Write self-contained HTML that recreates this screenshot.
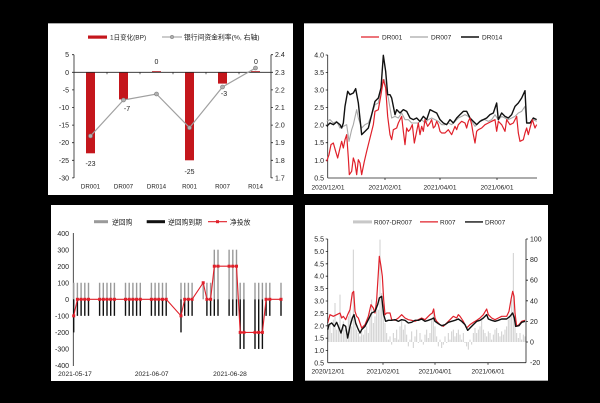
<!DOCTYPE html>
<html><head><meta charset="utf-8"><style>
html,body{margin:0;padding:0;background:#000;}
svg{display:block;}
text{font-family:"Liberation Sans","Noto Sans CJK SC",sans-serif;fill:#222;}
</style></head><body>
<svg width="600" height="403" viewBox="0 0 600 403" xmlns="http://www.w3.org/2000/svg">
<rect x="0" y="0" width="600" height="403" fill="#000"/>
<!-- panels -->
<rect x="48" y="23" width="245" height="172" fill="#fff"/>
<line x1="48" y1="23.5" x2="293" y2="23.5" stroke="#aaa" stroke-width="1"/>
<rect x="304" y="23" width="249" height="171" fill="#fff"/>
<line x1="304" y1="23.5" x2="553" y2="23.5" stroke="#aaa" stroke-width="1"/>
<rect x="51" y="205" width="242" height="176" fill="#fff"/>
<rect x="305" y="205" width="243" height="176" fill="#fff"/>
<line x1="305" y1="380.5" x2="548" y2="380.5" stroke="#aaa" stroke-width="1"/>

<!-- ================= TOP LEFT ================= -->
<g font-size="7" text-anchor="end">
<text x="69" y="57.2">5</text>
<text x="69" y="74.8">0</text>
<text x="69" y="92.4">-5</text>
<text x="69" y="110">-10</text>
<text x="69" y="127.6">-15</text>
<text x="69" y="145.2">-20</text>
<text x="69" y="162.8">-25</text>
<text x="69" y="180.4">-30</text>
</g>
<g font-size="7" text-anchor="start">
<text x="275" y="57.2">2.4</text>
<text x="275" y="74.8">2.3</text>
<text x="275" y="92.4">2.2</text>
<text x="275" y="110">2.1</text>
<text x="275" y="127.6">2.0</text>
<text x="275" y="145.2">1.9</text>
<text x="275" y="162.8">1.8</text>
<text x="275" y="180.4">1.7</text>
</g>
<g stroke="#222" stroke-width="0.8" fill="none">
<line x1="74" y1="54.7" x2="74" y2="178"/>
<line x1="271" y1="54.7" x2="271" y2="178"/>
<path d="M72 54.7H74M72 72.3H74M72 89.9H74M72 107.5H74M72 125.1H74M72 142.7H74M72 160.3H74M72 177.9H74"/>
<path d="M271 54.7H273M271 72.3H273M271 89.9H273M271 107.5H273M271 125.1H273M271 142.7H273M271 160.3H273M271 177.9H273"/>
</g>
<g fill="#c4161c">
<rect x="86" y="72.3" width="9" height="81"/>
<rect x="119" y="72.3" width="9" height="27.1"/>
<rect x="152" y="71.2" width="9" height="1.1"/>
<rect x="185" y="72.3" width="9" height="88"/>
<rect x="218" y="72.3" width="9" height="11.3"/>
<rect x="251" y="71.2" width="9" height="1.1"/>
</g>
<line x1="74" y1="72.3" x2="271" y2="72.3" stroke="#222" stroke-width="0.8"/>
<path d="M107 72.3V74.3M140 72.3V74.3M173 72.3V74.3M206 72.3V74.3M239 72.3V74.3" stroke="#222" stroke-width="0.7"/>
<polyline points="90.5,136 123.5,100 156.5,94 189.5,127.7 222.5,87 255.5,68" fill="none" stroke="#a0a0a0" stroke-width="1.2"/>
<g fill="#b0b0b0" stroke="#777" stroke-width="0.6">
<circle cx="90.5" cy="136" r="2"/><circle cx="123.5" cy="100" r="2"/><circle cx="156.5" cy="94" r="2"/>
<circle cx="189.5" cy="127.7" r="2"/><circle cx="222.5" cy="87" r="2"/><circle cx="255.5" cy="68" r="2"/>
</g>
<g font-size="7" text-anchor="middle">
<text x="90.5" y="166">-23</text>
<text x="127" y="111">-7</text>
<text x="156.5" y="64">0</text>
<text x="189.5" y="174">-25</text>
<text x="224" y="96">-3</text>
<text x="256" y="64">0</text>
</g>
<g font-size="6.2" text-anchor="middle">
<text x="90.5" y="188.5">DR001</text>
<text x="123.5" y="188.5">DR007</text>
<text x="156.5" y="188.5">DR014</text>
<text x="189.5" y="188.5">R001</text>
<text x="222.5" y="188.5">R007</text>
<text x="255.5" y="188.5">R014</text>
</g>
<rect x="88" y="35.5" width="19" height="3.2" fill="#c4161c"/>
<text x="110" y="39.6" font-size="6.5">1日变化(BP)</text>
<line x1="162" y1="37" x2="182" y2="37" stroke="#999" stroke-width="1"/>
<circle cx="172" cy="37" r="1.8" fill="#b0b0b0" stroke="#777" stroke-width="0.5"/>
<text x="184" y="39.6" font-size="6.8">银行间资金利率(%, 右轴)</text>

<!-- ================= TOP RIGHT ================= -->
<g font-size="7" text-anchor="end">
<text x="324" y="57.5">4.0</text>
<text x="324" y="75">3.5</text>
<text x="324" y="92.5">3.0</text>
<text x="324" y="110.1">2.5</text>
<text x="324" y="127.7">2.0</text>
<text x="324" y="145.2">1.5</text>
<text x="324" y="162.8">1.0</text>
<text x="324" y="180.4">0.5</text>
</g>
<g stroke="#222" stroke-width="0.8" fill="none">
<line x1="327.7" y1="55" x2="327.7" y2="178"/>
<line x1="327.7" y1="178" x2="537" y2="178"/>
<path d="M325.7 55H327.7M325.7 72.5H327.7M325.7 90H327.7M325.7 107.6H327.7M325.7 125.2H327.7M325.7 142.7H327.7M325.7 160.3H327.7"/>
<path d="M385 178V180M440 178V180M497 178V180"/>
</g>
<g font-size="6.6" text-anchor="middle">
<text x="328" y="189.5">2020/12/01</text>
<text x="385" y="189.5">2021/02/01</text>
<text x="440" y="189.5">2021/04/01</text>
<text x="497" y="189.5">2021/06/01</text>
</g>
<g transform="translate(325,48) scale(0.33333)" fill="none" stroke-linejoin="round">
<polyline stroke="#a8a8a8" stroke-width="3.3" points="5,220 15,215 25,225 35,220 45,240 55,235 65,230 72,280 80,245 85,230 95,185 100,210 110,240 120,230 130,225 140,200 150,170 160,165 170,110 178,95 185,130 190,150 200,210 210,205 220,210 230,195 240,215 250,215 260,225 270,225 280,225 290,215 300,225 310,215 320,210 330,215 340,220 350,230 360,230 370,225 380,230 390,220 400,210 410,205 420,200 430,205 440,220 450,235 460,225 470,215 480,215 490,220 500,215 510,200 520,215 530,205 540,210 550,215 560,210 570,205 580,195 590,190 600,175 605,225 615,225 625,215 635,220"/>
<polyline stroke="#111" stroke-width="4.2" points="5,235 15,225 25,230 35,222 45,230 50,240 55,225 60,175 68,130 75,140 85,135 92,122 100,165 110,260 120,250 130,240 140,200 150,160 160,150 168,120 175,22 182,70 188,140 195,140 200,150 210,200 215,185 225,195 235,185 245,190 255,210 265,215 275,210 285,220 295,205 305,215 315,185 325,190 335,195 345,215 355,225 365,230 375,215 385,225 395,210 405,200 415,190 425,190 435,210 445,220 455,230 465,220 475,215 485,210 495,200 505,195 515,165 520,215 530,195 540,205 550,210 560,200 570,175 580,165 590,150 600,128 605,225 615,225 625,210 635,215"/>
<polyline stroke="#e0202a" stroke-width="3.6" points="5,340 12,320 18,290 25,285 32,310 38,330 45,300 50,280 55,300 60,275 65,260 70,330 73,380 80,370 85,330 90,345 95,380 100,335 105,345 110,380 118,340 125,310 135,270 145,230 150,190 160,185 168,140 175,95 182,120 188,205 195,260 200,275 205,245 215,240 220,225 225,215 230,205 235,250 240,290 245,240 250,250 255,245 262,230 268,285 275,250 280,225 285,260 290,235 295,250 300,215 308,235 315,225 320,215 325,240 330,235 335,220 340,230 345,250 350,255 360,255 370,245 380,260 390,235 395,245 400,230 410,220 420,225 425,240 430,220 435,210 440,230 445,260 450,285 455,250 460,245 470,240 480,230 490,225 500,220 510,215 515,250 520,220 530,230 540,250 545,215 555,230 565,225 575,205 580,255 585,280 595,275 600,255 605,240 610,260 615,240 622,215 630,240 635,230"/>
</g>
<line x1="361" y1="37" x2="379" y2="37" stroke="#e0202a" stroke-width="1.2"/>
<text x="382" y="39.6" font-size="6.5">DR001</text>
<line x1="410" y1="37" x2="428" y2="37" stroke="#a8a8a8" stroke-width="1.2"/>
<text x="431" y="39.6" font-size="6.5">DR007</text>
<line x1="461" y1="37" x2="479" y2="37" stroke="#111" stroke-width="1.4"/>
<text x="482" y="39.6" font-size="6.5">DR014</text>

<!-- ================= BOTTOM LEFT ================= -->
<g font-size="7" text-anchor="end">
<text x="69" y="236">400</text>
<text x="69" y="252.5">300</text>
<text x="69" y="268.9">200</text>
<text x="69" y="285.5">100</text>
<text x="69" y="301.8">0</text>
<text x="69" y="318.3">-100</text>
<text x="69" y="334.9">-200</text>
<text x="69" y="351.4">-300</text>
<text x="69" y="368">-400</text>
</g>
<line x1="73.3" y1="233" x2="73.3" y2="366" stroke="#222" stroke-width="0.8"/>
<!-- gray reverse repo bars -->
<g fill="#9a9a9a">
<rect x="73" y="282.75" width="1.4" height="16.55"/><rect x="76.7" y="282.75" width="1.4" height="16.55"/><rect x="80.4" y="282.75" width="1.4" height="16.55"/><rect x="84.1" y="282.75" width="1.4" height="16.55"/><rect x="87.8" y="282.75" width="1.4" height="16.55"/>
<rect x="98.9" y="282.75" width="1.4" height="16.55"/><rect x="102.6" y="282.75" width="1.4" height="16.55"/><rect x="106.3" y="282.75" width="1.4" height="16.55"/><rect x="110" y="282.75" width="1.4" height="16.55"/><rect x="113.7" y="282.75" width="1.4" height="16.55"/>
<rect x="124.8" y="282.75" width="1.4" height="16.55"/><rect x="128.5" y="282.75" width="1.4" height="16.55"/><rect x="132.2" y="282.75" width="1.4" height="16.55"/><rect x="135.9" y="282.75" width="1.4" height="16.55"/><rect x="139.6" y="282.75" width="1.4" height="16.55"/>
<rect x="150.7" y="282.75" width="1.4" height="16.55"/><rect x="154.4" y="282.75" width="1.4" height="16.55"/><rect x="158.1" y="282.75" width="1.4" height="16.55"/><rect x="161.8" y="282.75" width="1.4" height="16.55"/><rect x="165.5" y="282.75" width="1.4" height="16.55"/>
<rect x="180.3" y="282.75" width="1.4" height="16.55"/><rect x="184" y="282.75" width="1.4" height="16.55"/><rect x="187.7" y="282.75" width="1.4" height="16.55"/><rect x="191.4" y="282.75" width="1.4" height="16.55"/>
<rect x="202.5" y="282.75" width="1.4" height="16.55"/><rect x="206.2" y="282.75" width="1.4" height="16.55"/><rect x="209.9" y="282.75" width="1.4" height="16.55"/><rect x="213.6" y="249.7" width="1.4" height="49.6"/><rect x="217.3" y="249.7" width="1.4" height="49.6"/>
<rect x="228.4" y="249.7" width="1.4" height="49.6"/><rect x="232.1" y="249.7" width="1.4" height="49.6"/><rect x="235.8" y="249.7" width="1.4" height="49.6"/><rect x="239.5" y="282.75" width="1.4" height="16.55"/><rect x="243.2" y="282.75" width="1.4" height="16.55"/>
<rect x="254.3" y="282.75" width="1.4" height="16.55"/><rect x="258" y="282.75" width="1.4" height="16.55"/><rect x="261.7" y="282.75" width="1.4" height="16.55"/><rect x="265.4" y="282.75" width="1.4" height="16.55"/><rect x="269.1" y="282.75" width="1.4" height="16.55"/>
<rect x="280.3" y="282.75" width="1.4" height="16.55"/>
</g>
<!-- black maturity bars -->
<g fill="#111">
<rect x="73" y="299.3" width="1.4" height="33.1"/><rect x="76.7" y="299.3" width="1.4" height="16.55"/><rect x="80.4" y="299.3" width="1.4" height="16.55"/><rect x="84.1" y="299.3" width="1.4" height="16.55"/><rect x="87.8" y="299.3" width="1.4" height="16.55"/>
<rect x="98.9" y="299.3" width="1.4" height="16.55"/><rect x="102.6" y="299.3" width="1.4" height="16.55"/><rect x="106.3" y="299.3" width="1.4" height="16.55"/><rect x="110" y="299.3" width="1.4" height="16.55"/><rect x="113.7" y="299.3" width="1.4" height="16.55"/>
<rect x="124.8" y="299.3" width="1.4" height="16.55"/><rect x="128.5" y="299.3" width="1.4" height="16.55"/><rect x="132.2" y="299.3" width="1.4" height="16.55"/><rect x="135.9" y="299.3" width="1.4" height="16.55"/><rect x="139.6" y="299.3" width="1.4" height="16.55"/>
<rect x="150.7" y="299.3" width="1.4" height="16.55"/><rect x="154.4" y="299.3" width="1.4" height="16.55"/><rect x="158.1" y="299.3" width="1.4" height="16.55"/><rect x="161.8" y="299.3" width="1.4" height="16.55"/><rect x="165.5" y="299.3" width="1.4" height="16.55"/>
<rect x="180.3" y="299.3" width="1.4" height="33.1"/><rect x="184" y="299.3" width="1.4" height="16.55"/><rect x="187.7" y="299.3" width="1.4" height="16.55"/><rect x="191.4" y="299.3" width="1.4" height="16.55"/>
<rect x="206.2" y="299.3" width="1.4" height="16.55"/><rect x="209.9" y="299.3" width="1.4" height="16.55"/><rect x="213.6" y="299.3" width="1.4" height="16.55"/><rect x="217.3" y="299.3" width="1.4" height="16.55"/>
<rect x="228.4" y="299.3" width="1.4" height="16.55"/><rect x="232.1" y="299.3" width="1.4" height="16.55"/><rect x="235.8" y="299.3" width="1.4" height="16.55"/><rect x="239.5" y="299.3" width="1.4" height="49.65"/><rect x="243.2" y="299.3" width="1.4" height="49.65"/>
<rect x="254.3" y="299.3" width="1.4" height="49.65"/><rect x="258" y="299.3" width="1.4" height="49.65"/><rect x="261.7" y="299.3" width="1.4" height="49.65"/><rect x="265.4" y="299.3" width="1.4" height="16.55"/><rect x="269.1" y="299.3" width="1.4" height="16.55"/>
<rect x="280.3" y="299.3" width="1.4" height="16.55"/>
</g>
<polyline fill="none" stroke="#e0202a" stroke-width="1.1" points="73.7,315.85 77.4,299.3 81.1,299.3 84.8,299.3 88.5,299.3 99.6,299.3 103.3,299.3 107,299.3 110.7,299.3 114.4,299.3 125.5,299.3 129.2,299.3 132.9,299.3 136.6,299.3 140.3,299.3 151.4,299.3 155.1,299.3 158.8,299.3 162.5,299.3 166.2,299.3 181,315.85 184.7,299.3 188.4,299.3 192.1,299.3 203.2,282.75 206.9,299.3 210.6,299.3 214.3,266.2 218,266.2 229.1,266.2 232.8,266.2 236.5,266.2 240.2,332.4 243.9,332.4 255,332.4 258.7,332.4 262.4,332.4 266.1,299.3 269.8,299.3 281,299.3"/>
<g fill="#e0202a">
<rect x="72.2" y="314.35" width="3" height="3"/><rect x="75.9" y="297.8" width="3" height="3"/><rect x="79.6" y="297.8" width="3" height="3"/><rect x="83.3" y="297.8" width="3" height="3"/><rect x="87" y="297.8" width="3" height="3"/>
<rect x="98.1" y="297.8" width="3" height="3"/><rect x="101.8" y="297.8" width="3" height="3"/><rect x="105.5" y="297.8" width="3" height="3"/><rect x="109.2" y="297.8" width="3" height="3"/><rect x="112.9" y="297.8" width="3" height="3"/>
<rect x="124" y="297.8" width="3" height="3"/><rect x="127.7" y="297.8" width="3" height="3"/><rect x="131.4" y="297.8" width="3" height="3"/><rect x="135.1" y="297.8" width="3" height="3"/><rect x="138.8" y="297.8" width="3" height="3"/>
<rect x="149.9" y="297.8" width="3" height="3"/><rect x="153.6" y="297.8" width="3" height="3"/><rect x="157.3" y="297.8" width="3" height="3"/><rect x="161" y="297.8" width="3" height="3"/><rect x="164.7" y="297.8" width="3" height="3"/>
<rect x="179.5" y="314.35" width="3" height="3"/><rect x="183.2" y="297.8" width="3" height="3"/><rect x="186.9" y="297.8" width="3" height="3"/><rect x="190.6" y="297.8" width="3" height="3"/>
<rect x="201.7" y="281.25" width="3" height="3"/><rect x="205.4" y="297.8" width="3" height="3"/><rect x="209.1" y="297.8" width="3" height="3"/><rect x="212.8" y="264.7" width="3" height="3"/><rect x="216.5" y="264.7" width="3" height="3"/>
<rect x="227.6" y="264.7" width="3" height="3"/><rect x="231.3" y="264.7" width="3" height="3"/><rect x="235" y="264.7" width="3" height="3"/><rect x="238.7" y="330.9" width="3" height="3"/><rect x="242.4" y="330.9" width="3" height="3"/>
<rect x="253.5" y="330.9" width="3" height="3"/><rect x="257.2" y="330.9" width="3" height="3"/><rect x="260.9" y="330.9" width="3" height="3"/><rect x="264.6" y="297.8" width="3" height="3"/><rect x="268.3" y="297.8" width="3" height="3"/>
<rect x="279.5" y="297.8" width="3" height="3"/>
</g>
<g font-size="6.6" text-anchor="middle">
<text x="75" y="376">2021-05-17</text>
<text x="151.7" y="376">2021-06-07</text>
<text x="230" y="376">2021-06-28</text>
</g>
<rect x="94" y="220.2" width="14" height="3" fill="#9a9a9a"/>
<text x="112" y="224.3" font-size="6.8">逆回购</text>
<rect x="146.7" y="220.2" width="18.3" height="3" fill="#111"/>
<text x="168" y="224.3" font-size="6.8">逆回购到期</text>
<line x1="208" y1="221.7" x2="227" y2="221.7" stroke="#e0202a" stroke-width="1.1"/>
<rect x="216" y="220.2" width="3" height="3" fill="#e0202a"/>
<text x="230" y="224.3" font-size="6.8">净投放</text>

<!-- ================= BOTTOM RIGHT ================= -->
<g font-size="7" text-anchor="end">
<text x="324" y="241.5">5.5</text>
<text x="324" y="253.9">5.0</text>
<text x="324" y="266.3">4.5</text>
<text x="324" y="278.7">4.0</text>
<text x="324" y="291.1">3.5</text>
<text x="324" y="303.5">3.0</text>
<text x="324" y="315.9">2.5</text>
<text x="324" y="328.3">2.0</text>
<text x="324" y="340.7">1.5</text>
<text x="324" y="353.1">1.0</text>
<text x="324" y="365.5">0.5</text>
</g>
<g font-size="7" text-anchor="start">
<text x="530" y="241.5">100</text>
<text x="530" y="262.1">80</text>
<text x="530" y="282.7">60</text>
<text x="530" y="303.3">40</text>
<text x="530" y="323.9">20</text>
<text x="530" y="344.5">0</text>
<text x="530" y="365.1">-20</text>
</g>
<g transform="translate(325,233) scale(0.33333)" fill="none">
<path stroke="#cfcfcf" stroke-width="3" d="M10 327V285M15 327V270M20 327V300M25 327V260M30 327V210M35 327V290M40 327V275M45 327V185M50 327V300M55 327V265M60 327V290M65 327V310M70 327V250M75 327V230M80 327V280M85 327V50M90 327V260M95 327V290M100 327V300M105 327V310M110 327V295M115 327V305M120 327V290M125 327V280M130 327V300M135 327V240M140 327V200M145 327V270M150 327V250M155 327V210M160 327V230M165 327V20M170 327V180M175 327V240M180 327V270M185 327V300M190 327V320M195 327V310M200 327V335M205 327V300M210 327V315M215 327V290M220 327V320M225 327V280M230 327V260M235 327V290M240 327V275M245 327V305M250 327V340M255 327V320M260 327V295M265 327V345M270 327V310M275 327V290M280 327V330M285 327V300M290 327V320M295 327V335M300 327V305M305 327V290M310 327V315M315 327V300M320 327V260M325 327V230M330 327V280M335 327V310M340 327V340M345 327V320M350 327V345M355 327V335M360 327V310M365 327V330M370 327V300M375 327V320M380 327V295M385 327V290M390 327V310M395 327V300M400 327V290M405 327V305M410 327V320M415 327V300M420 327V330M425 327V340M430 327V350M435 327V320M440 327V335M445 327V300M450 327V285M455 327V300M460 327V290M465 327V280M470 327V260M475 327V290M480 327V300M485 327V310M490 327V295M495 327V300M500 327V320M505 327V305M510 327V290M515 327V285M520 327V300M525 327V310M530 327V295M535 327V305M540 327V290M545 327V280M550 327V260M555 327V250M560 327V200M565 327V60M570 327V230M575 327V300M580 327V315M585 327V300M590 327V320M595 327V305M600 327V310"/>
<polyline stroke="#e0202a" stroke-width="3.6" stroke-linejoin="round" points="8,270 15,245 25,250 35,245 45,240 50,255 55,250 62,260 68,245 75,230 82,180 86,175 90,235 95,250 100,255 105,270 110,285 120,275 130,250 138,215 145,225 150,240 155,200 160,120 163,70 168,100 172,130 176,200 180,245 185,240 195,240 200,260 210,262 220,255 230,245 240,255 250,260 260,262 270,265 280,260 290,255 300,260 310,250 315,245 322,240 326,228 330,255 335,265 345,275 355,280 365,270 375,260 385,250 395,255 400,245 405,250 415,265 425,285 435,275 445,268 455,262 465,255 475,245 485,228 490,245 500,255 510,260 520,255 530,250 545,250 552,235 558,200 563,175 567,190 570,240 575,280 582,275 590,265 600,262"/>
<polyline stroke="#111" stroke-width="4.2" stroke-linejoin="round" points="8,290 12,275 20,270 28,280 35,268 42,285 48,300 55,275 62,280 68,315 75,280 82,255 87,245 92,270 98,285 105,300 110,290 120,280 130,260 140,240 150,235 158,215 163,195 170,190 176,245 182,265 190,262 200,262 210,260 220,265 230,260 240,262 250,270 260,268 270,262 280,262 290,258 300,265 310,262 320,258 326,255 330,265 340,272 350,278 360,275 370,268 380,265 390,262 400,258 410,265 420,275 428,292 435,285 445,275 455,265 465,262 475,255 485,245 490,258 500,262 510,265 520,262 530,258 545,258 555,250 563,240 568,255 572,280 582,278 590,268 600,265"/>
</g>
<g stroke="#222" stroke-width="0.8" fill="none">
<line x1="327.7" y1="239" x2="327.7" y2="362.7"/>
<line x1="526" y1="239" x2="526" y2="362.7"/>
<line x1="327.7" y1="362.7" x2="526" y2="362.7"/>
<path d="M325.7 239H327.7M325.7 251.4H327.7M325.7 263.8H327.7M325.7 276.2H327.7M325.7 288.6H327.7M325.7 301H327.7M325.7 313.4H327.7M325.7 325.8H327.7M325.7 338.2H327.7M325.7 350.6H327.7"/>
<path d="M526 239H528M526 259.6H528M526 280.2H528M526 300.8H528M526 321.4H528M526 342H528"/>
<path d="M383 362.7V364.7M435 362.7V364.7M488 362.7V364.7"/>
</g>
<g font-size="6.6" text-anchor="middle">
<text x="328" y="373.5">2020/12/01</text>
<text x="383" y="373.5">2021/02/01</text>
<text x="435" y="373.5">2021/04/01</text>
<text x="488" y="373.5">2021/06/01</text>
</g>
<rect x="353" y="220.4" width="19" height="3" fill="#c8c8c8"/>
<text x="374" y="224.3" font-size="6.5">R007-DR007</text>
<line x1="420" y1="221.9" x2="438" y2="221.9" stroke="#e0202a" stroke-width="1.2"/>
<text x="440" y="224.3" font-size="6.5">R007</text>
<line x1="465" y1="221.9" x2="483" y2="221.9" stroke="#111" stroke-width="1.4"/>
<text x="485" y="224.3" font-size="6.5">DR007</text>
</svg>
</body></html>
